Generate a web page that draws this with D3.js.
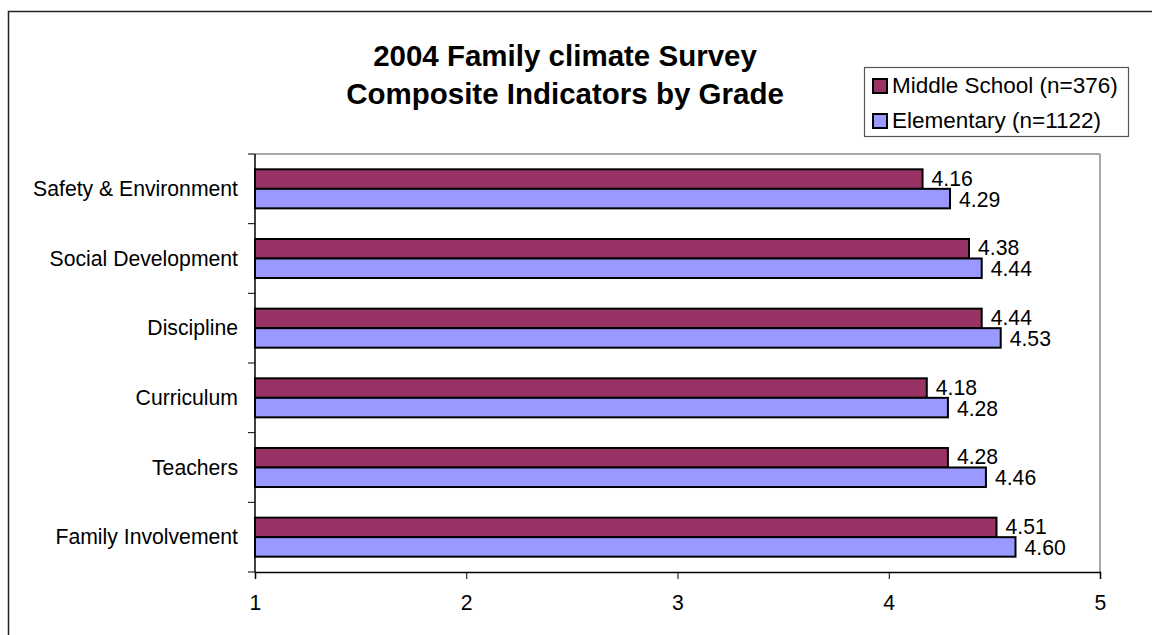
<!DOCTYPE html>
<html><head><meta charset="utf-8">
<script src="https://cdn.jsdelivr.net/npm/d3@7"></script>
<style>body{margin:0;background:#fff;} svg{display:block;font-family:"Liberation Sans",Arial,sans-serif;}</style>
</head><body><svg id="c" width="1152" height="635"></svg>
<script>
const categories = ["Safety & Environment","Social Development","Discipline","Curriculum","Teachers","Family Involvement"];
const middleSchool = [4.16,4.38,4.44,4.18,4.28,4.51];
const elementary = [4.29,4.44,4.53,4.28,4.46,4.60];
const seriesNames = ["Middle School (n=376)","Elementary (n=1122)"];
const seriesColors = ["#993366","#9999FF"];
const xTicks = [1,2,3,4,5];
const titleLines = ["2004 Family climate Survey","Composite Indicators by Grade"];

const svg = d3.select("#c");
const FS = 21.2;
svg.append("rect").attr("x",8.5).attr("y",11.5).attr("width",1160).attr("height",640)
  .attr("fill","none").attr("stroke","#222").attr("stroke-width",1.5);

const L=255,R=1100,T=154,B=572;
const x = d3.scaleLinear().domain([1,5]).range([L,R]);
const y = d3.scaleBand().domain(categories).range([T,B]).paddingInner(0).paddingOuter(0);
// group of bars occupies 56% of band, centered
const groupH = y.bandwidth()*0.56;
const barH = groupH/2;
const off = (y.bandwidth()-groupH)/2;

// plot border top/right gray
svg.append("line").attr("x1",L).attr("x2",R).attr("y1",T).attr("y2",T).attr("stroke","#8a8a8a").attr("stroke-width",1.5);
svg.append("line").attr("x1",R).attr("x2",R).attr("y1",T).attr("y2",B).attr("stroke","#8a8a8a").attr("stroke-width",1.5);

const series = [middleSchool, elementary];
series.forEach((vals,si)=>{
  svg.append("g").selectAll("rect").data(vals).join("rect")
    .attr("x",x(1)).attr("y",(d,i)=>y(categories[i])+off+si*barH)
    .attr("width",d=>x(d)-x(1)).attr("height",barH)
    .attr("fill",seriesColors[si]).attr("stroke","#000").attr("stroke-width",2);
  svg.append("g").selectAll("text").data(vals).join("text")
    .attr("x",d=>x(d)+9).attr("y",(d,i)=>y(categories[i])+off+si*barH+barH/2+(si===0?6.5:8))
    .attr("font-size",FS).attr("fill","#000").text(d=>d.toFixed(2));
});

// y axis
const yAxisG = svg.append("g");
yAxisG.append("line").attr("x1",L).attr("x2",L).attr("y1",T).attr("y2",B).attr("stroke","#000").attr("stroke-width",1.5);
const bounds = categories.map(c=>y(c)).concat([B]);
yAxisG.selectAll("line.t").data(bounds).join("line").attr("class","t")
  .attr("x1",L-7).attr("x2",L).attr("y1",d=>d).attr("y2",d=>d).attr("stroke","#000").attr("stroke-width",1);
yAxisG.selectAll("text").data(categories).join("text")
  .attr("x",238).attr("y",c=>y(c)+y.bandwidth()/2+7).attr("text-anchor","end")
  .attr("font-size",FS).text(c=>c);

// x axis
const xAxis = d3.axisBottom(x).tickValues(xTicks).tickSize(7).tickPadding(16).tickFormat(d3.format("d"));
const xg = svg.append("g").attr("transform",`translate(0,${B})`).call(xAxis);
xg.select(".domain").attr("stroke","#000").attr("stroke-width",1.5);
xg.selectAll(".tick line").attr("stroke","#000");
xg.selectAll("text").attr("font-size",FS).attr("font-family","Liberation Sans, Arial, sans-serif").attr("fill","#000");

// title
svg.append("g").selectAll("text").data(titleLines).join("text")
  .attr("x",565).attr("y",(d,i)=>66+i*38).attr("text-anchor","middle")
  .attr("font-size",29.5).attr("font-weight","bold").text(d=>d);

// legend
const lg = svg.append("g");
lg.append("rect").attr("x",864.5).attr("y",67.5).attr("width",264).attr("height",69)
  .attr("fill","#fff").attr("stroke","#555").attr("stroke-width",1.2);
seriesNames.forEach((n,i)=>{
  lg.append("rect").attr("x",873).attr("y",79+i*35).attr("width",14).attr("height",14)
    .attr("fill",seriesColors[i]).attr("stroke","#000").attr("stroke-width",2);
  lg.append("text").attr("x",892).attr("y",93+i*34.5).attr("font-size",22.5).text(n);
});
</script></body></html>
